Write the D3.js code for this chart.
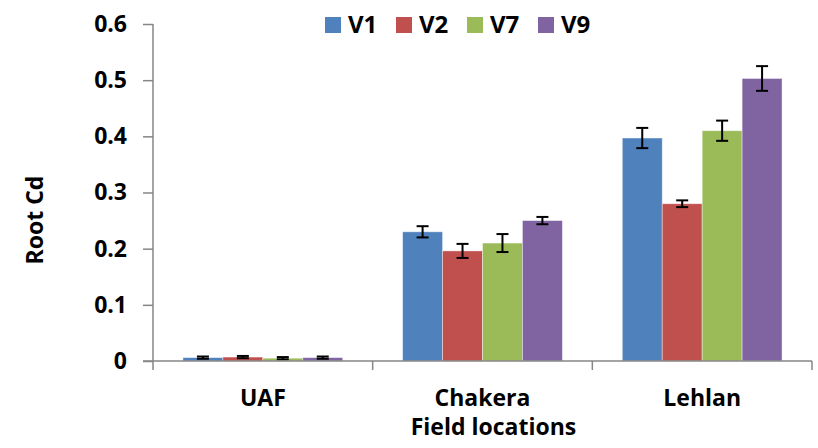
<!DOCTYPE html>
<html><head><meta charset="utf-8">
<script src="https://cdn.jsdelivr.net/npm/d3@7"></script>
<style>body{margin:0;background:#fff}text{font-family:"Open Sans",sans-serif;font-weight:bold;fill:#000}</style>
</head><body><svg id="c" width="818" height="448"></svg>
<script>
const categories = ["UAF", "Chakera", "Lehlan"];
const seriesNames = ["V1", "V2", "V7", "V9"];
const colors = ["#4F81BD", "#C0504D", "#9BBB59", "#8064A2"];
const V1 = [0.006, 0.230, 0.397];
const V2 = [0.007, 0.196, 0.280];
const V7 = [0.005, 0.210, 0.410];
const V9 = [0.006, 0.250, 0.503];
const E1 = [0.002, 0.010, 0.018];
const E2 = [0.002, 0.0125, 0.006];
const E7 = [0.002, 0.016, 0.018];
const E9 = [0.002, 0.0065, 0.022];
const yTicks = [0, 0.1, 0.2, 0.3, 0.4, 0.5, 0.6];
const values = [V1, V2, V7, V9];
const errors = [E1, E2, E7, E9];

const svg = d3.select("#c");
const x0 = 153, x1 = 812, yTop = 24, yBot = 361;
const x = d3.scaleBand().domain(categories).range([x0, x1]).paddingInner(0).paddingOuter(0);
const y = d3.scaleLinear().domain([0, 0.6]).range([yBot, yTop]);
const inner = d3.scaleBand().domain(seriesNames)
  .range([x.bandwidth()*30/220, x.bandwidth()*190/220]).paddingInner(0).paddingOuter(0);

const data = [];
categories.forEach((c, ci) => seriesNames.forEach((s, si) => data.push({c, s, si, v: values[si][ci], e: errors[si][ci]})));

svg.selectAll("rect.bar").data(data).enter().append("rect")
  .attr("x", d => x(d.c) + inner(d.s))
  .attr("y", d => y(d.v))
  .attr("width", inner.bandwidth())
  .attr("height", d => y(0) - y(d.v))
  .attr("fill", d => colors[d.si])
  .attr("stroke", "rgba(255,255,255,0.5)").attr("stroke-width", 0.8);

const eg = svg.append("g").attr("stroke", "#000").attr("stroke-width", 2);
data.forEach(d => {
  const cx = x(d.c) + inner(d.s) + inner.bandwidth()/2;
  eg.append("line").attr("x1", cx).attr("x2", cx).attr("y1", y(d.v + d.e)).attr("y2", y(d.v - d.e));
  eg.append("line").attr("x1", cx-6).attr("x2", cx+6).attr("y1", y(d.v + d.e)).attr("y2", y(d.v + d.e));
  eg.append("line").attr("x1", cx-6).attr("x2", cx+6).attr("y1", y(d.v - d.e)).attr("y2", y(d.v - d.e));
});

// y axis
const ya = svg.append("g").attr("transform", `translate(${x0},0)`)
  .call(d3.axisLeft(y).tickValues(yTicks).tickSize(10).tickPadding(16).tickFormat(d => d === 0 ? "0" : d3.format(".1f")(d)));
ya.selectAll("path,line").attr("stroke", "#868686").attr("stroke-width", 1.5);
ya.select("path").attr("d", `M0,${yTop}V${yBot + 9}`);
ya.selectAll("text").style("font-size", "23px").attr("fill", "#000");

// x axis
const xa = svg.append("g").attr("transform", `translate(0,${yBot})`);
xa.append("line").attr("x1", x0 - 10).attr("x2", x1).attr("y1", 0).attr("y2", 0).attr("stroke", "#868686").attr("stroke-width", 1.5);
const bounds = categories.map(c => x(c) + x.bandwidth());
xa.selectAll("line.t").data(bounds).enter().append("line")
  .attr("x1", d => d).attr("x2", d => d).attr("y1", 0).attr("y2", 9).attr("stroke", "#868686").attr("stroke-width", 1.5);
xa.selectAll("text.cat").data(categories).enter().append("text")
  .attr("x", d => x(d) + x.bandwidth()/2).attr("y", 45).attr("text-anchor", "middle")
  .style("font-size", "23px").text(d => d);

svg.append("text").attr("x", x(categories[1]) + x.bandwidth()/2 + 11).attr("y", 435).attr("text-anchor", "middle")
  .style("font-size", "23px").text("Field locations");
svg.append("text").attr("transform", "translate(43,220) rotate(-90)").attr("text-anchor", "middle")
  .style("font-size", "23px").text("Root Cd");

// legend
const lg = svg.append("g");
seriesNames.forEach((s, i) => {
  const lx = 325 + i * 71;
  lg.append("rect").attr("x", lx).attr("y", 17).attr("width", 16).attr("height", 16).attr("fill", colors[i]);
  lg.append("text").attr("x", lx + 23).attr("y", 33).style("font-size", "24px").text(s);
});
</script></body></html>
